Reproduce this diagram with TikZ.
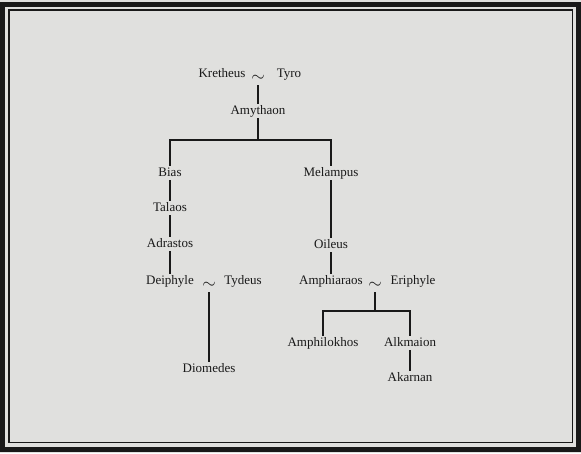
\documentclass[tikz,border=0pt]{standalone}
\usepackage{fontspec}
\setmainfont{Liberation Serif}
\usepackage{tikz}

\definecolor{paper}{RGB}{224,224,222}
\definecolor{ink}{RGB}{25,25,25}

\begin{document}
\begin{tikzpicture}[
  x=1pt, y=-1pt,
  person/.style={
    inner sep=1pt,
    text height=9pt,
    text depth=3pt,
    font=\fontsize{13}{15}\selectfont,
    text=ink
  },
  wed/.style={person, font=\fontsize{19}{21}\selectfont},
  line/.style={draw=ink, line width=1.3pt}
]
  % page and frame
  \fill[paper] (0,0) rectangle (581,453);
  \draw[ink, line width=5pt] (2.5,4.5) rectangle (578.5,449.5);
  \draw[ink, line width=1.2pt] (9,10) rectangle (572.5,442.5);

  \node[person] (kretheus) at (222,74) {Kretheus};
  \node[wed] (wed1) at (258,78) {$\sim$};
  \node[person] (tyro) at (289,74) {Tyro};
  \node[person] (amythaon) at (258,111) {Amythaon};

  \node[person] (bias) at (170,173) {Bias};
  \node[person] (melampus) at (331,173) {Melampus};
  \node[person] (talaos) at (170,208) {Talaos};
  \node[person] (adrastos) at (170,244) {Adrastos};
  \node[person] (deiphyle) at (170,281) {Deiphyle};
  \node[wed] (wed2) at (209,285) {$\sim$};
  \node[person] (tydeus) at (243,281) {Tydeus};
  \node[person] (diomedes) at (209,369) {Diomedes};

  \node[person] (oileus) at (331,245) {Oileus};
  \node[person] (amphiaraos) at (331,281) {Amphiaraos};
  \node[wed] (wed3) at (375,285) {$\sim$};
  \node[person] (eriphyle) at (413,281) {Eriphyle};
  \node[person] (amphilokhos) at (323,343) {Amphilokhos};
  \node[person] (alkmaion) at (410,343) {Alkmaion};
  \node[person] (akarnan) at (410,378) {Akarnan};

  \coordinate (bar1) at (258,140);
  \coordinate (bar2) at (375,311);

  \draw[line] (wed1) -- (amythaon);
  \draw[line] (amythaon) -- (bar1);
  \draw[line] (bias) |- (bar1) -| (melampus);
  \draw[line] (bias) -- (talaos);
  \draw[line] (talaos) -- (adrastos);
  \draw[line] (adrastos) -- (deiphyle);
  \draw[line] (wed2) -- (diomedes);
  \draw[line] (melampus) -- (oileus);
  \draw[line] (oileus) -- (amphiaraos);
  \draw[line] (wed3) -- (bar2);
  \draw[line] (amphilokhos) |- (bar2) -| (alkmaion);
  \draw[line] (alkmaion) -- (akarnan);
\end{tikzpicture}
\end{document}
